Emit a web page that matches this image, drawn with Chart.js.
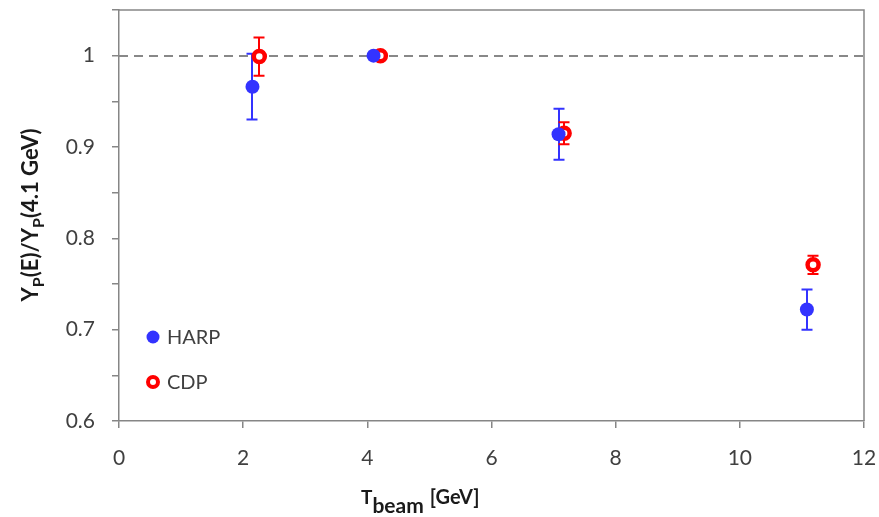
<!DOCTYPE html>
<html>
<head>
<meta charset="utf-8">
<script src="https://cdn.jsdelivr.net/npm/chart.js@4/dist/chart.umd.min.js"></script>
<style>
  html, body { margin: 0; padding: 0; background: #fff; }
  #wrap { width: 879px; height: 517px; position: relative; }
</style>
</head>
<body>
<div id="wrap"><canvas id="c"></canvas></div>
<script>
// beam energy [GeV] and yield ratio Yp(E)/Yp(4.1 GeV)
const harpX = [2.15, 4.1, 7.08, 11.08]
const harpY = [0.966, 1.0, 0.914, 0.722]
const harpErr = [0.036, 0, 0.028, 0.022]

const cdpX = [2.26, 4.21, 7.17, 11.18]
const cdpY = [0.999, 1.0, 0.915, 0.771]
const cdpErr = [0.021, 0, 0.012, 0.010]

const seriesNames = ["HARP", "CDP"]
const blue = 'rgb(51, 51, 255)'
const red = 'rgb(255, 0, 0)'
const grey = '#868686'
const textColor = '#404040'
const font = 'Lato, "Open Sans", sans-serif'

const toPoints = (xs, ys) => xs.map((x, i) => ({ x: x, y: ys[i] }))

// error bars + dashed reference line, under the markers
const errorBars = {
  id: 'errorBars',
  beforeDatasetsDraw(chart) {
    const ctx = chart.ctx
    const x = chart.scales.x, y = chart.scales.y
    const area = chart.chartArea

    ctx.save()
    ctx.strokeStyle = '#888'
    ctx.lineWidth = 2
    ctx.setLineDash([9, 6])
    ctx.beginPath()
    ctx.moveTo(area.left, Math.round(y.getPixelForValue(1)))
    ctx.lineTo(area.right, Math.round(y.getPixelForValue(1)))
    ctx.stroke()
    ctx.setLineDash([])

    const sets = [[harpX, harpY, harpErr, blue], [cdpX, cdpY, cdpErr, red]]
    sets.forEach(([xs, ys, errs, color]) => {
      ctx.strokeStyle = color
      ctx.lineWidth = 2
      xs.forEach((xv, i) => {
        if (!errs[i]) return
        const px = Math.round(x.getPixelForValue(xv))
        const top = y.getPixelForValue(ys[i] + errs[i])
        const bot = y.getPixelForValue(ys[i] - errs[i])
        ctx.beginPath()
        ctx.moveTo(px, top); ctx.lineTo(px, bot)
        ctx.moveTo(px - 5.5, top); ctx.lineTo(px + 5.5, top)
        ctx.moveTo(px - 5.5, bot); ctx.lineTo(px + 5.5, bot)
        ctx.stroke()
      })
    })
    ctx.restore()
  }
}

// frame, axis titles with subscripts, legend
const decorations = {
  id: 'decorations',
  afterDraw(chart) {
    const ctx = chart.ctx
    const area = chart.chartArea
    ctx.save()

    ctx.strokeStyle = grey
    ctx.lineWidth = 1.5
    ctx.beginPath()
    ctx.moveTo(area.left, area.top)
    ctx.lineTo(area.right, area.top)
    ctx.lineTo(area.right, area.bottom)
    ctx.stroke()

    // x title: T_beam [GeV]
    ctx.fillStyle = '#1a1a1a'
    ctx.textBaseline = 'alphabetic'
    ctx.textAlign = 'left'
    let tx = 361, ty = 504
    ctx.font = 'bold 19px ' + font
    ctx.fillText('T', tx, ty)
    tx += ctx.measureText('T').width
    ctx.font = 'bold 21px ' + font
    ctx.fillText('beam', tx, ty + 9)
    tx += ctx.measureText('beam').width + 6
    ctx.font = 'bold 20px ' + font
    ctx.fillText('[GeV]', tx, ty)

    // y title: Y_P(E)/Y_P(4.1 GeV)
    const parts = [['Y', 0], ['P', 1], ['(E)/Y', 0], ['P', 1], ['(4.1 GeV)', 0]]
    const big = 'bold 22px ' + font, small = 'bold 16px ' + font
    let total = 0
    parts.forEach(([t, sub]) => { ctx.font = sub ? small : big; total += ctx.measureText(t).width })
    ctx.translate(38, 215)
    ctx.rotate(-Math.PI / 2)
    let px = -total / 2
    parts.forEach(([t, sub]) => {
      ctx.font = sub ? small : big
      ctx.fillText(t, px, sub ? 6 : 0)
      px += ctx.measureText(t).width
    })
    ctx.setTransform(1, 0, 0, 1, 0, 0)

    // legend
    ctx.textBaseline = 'middle'
    ctx.beginPath()
    ctx.fillStyle = blue
    ctx.arc(153, 337, 6.5, 0, Math.PI * 2)
    ctx.fill()
    ctx.beginPath()
    ctx.strokeStyle = red
    ctx.lineWidth = 4
    ctx.arc(153, 382, 5, 0, Math.PI * 2)
    ctx.stroke()
    ctx.font = '20px ' + font
    ctx.fillStyle = textColor
    ctx.fillText(seriesNames[0], 167, 338)
    ctx.fillText(seriesNames[1], 167, 383)
    ctx.restore()
  }
}

new Chart(document.getElementById('c'), {
  type: 'scatter',
  data: {
    datasets: [
      {
        label: seriesNames[0],
        data: toPoints(harpX, harpY),
        pointRadius: 7,
        pointHoverRadius: 7,
        pointBackgroundColor: blue,
        pointBorderWidth: 0
      },
      {
        label: seriesNames[1],
        data: toPoints(cdpX, cdpY),
        pointRadius: 5.5,
        pointHoverRadius: 5.5,
        pointBackgroundColor: '#fff',
        pointBorderColor: red,
        pointBorderWidth: 4.5
      }
    ]
  },
  options: {
    responsive: true,
    maintainAspectRatio: false,
    animation: false,
    layout: { padding: { top: 6, right: 15, left: 0, bottom: 0 } },
    plugins: { legend: { display: false }, tooltip: { enabled: false } },
    scales: {
      x: {
        min: 0, max: 12,
        ticks: { stepSize: 2, color: textColor, font: { family: font, size: 21 }, padding: 18, maxRotation: 0 },
        grid: { drawOnChartArea: false, tickLength: 7, color: grey, lineWidth: 1.5 },
        border: { color: grey, width: 1.5 },
        afterFit(scale) {
          scale.height = 96
          scale.paddingLeft = 0
          scale.paddingRight = 0
        }
      },
      y: {
        min: 0.6, max: 1.05,
        ticks: {
          stepSize: 0.05,
          color: textColor,
          font: { family: font, size: 21 },
          padding: 17,
          autoSkip: false,
          callback(v) {
            const r = Math.round(v * 10)
            if (Math.abs(v * 10 - r) > 1e-6) return ''
            return r === 10 ? '1' : (r / 10).toFixed(1)
          }
        },
        grid: { drawOnChartArea: false, tickLength: 7, color: grey, lineWidth: 1.5 },
        border: { color: grey, width: 1.5 },
        afterFit(scale) {
          scale.width = 119
          scale.paddingTop = 0
          scale.paddingBottom = 0
        }
      }
    }
  },
  plugins: [errorBars, decorations]
})
</script>
</body>
</html>
